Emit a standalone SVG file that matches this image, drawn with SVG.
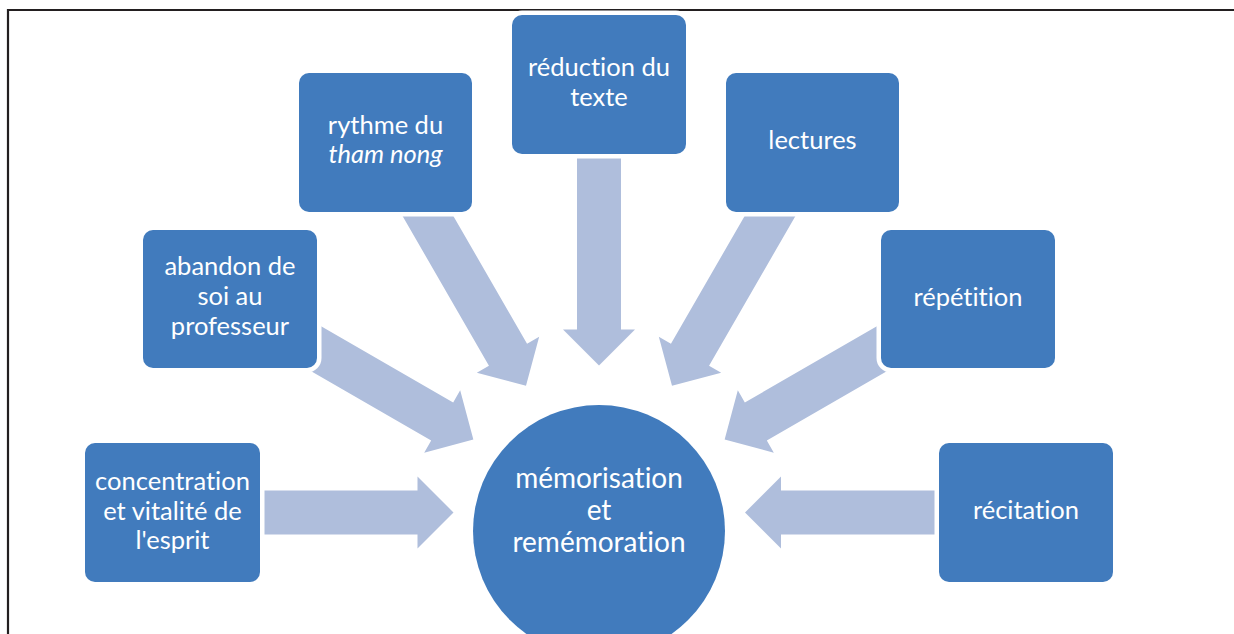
<svg xmlns="http://www.w3.org/2000/svg" xmlns:xlink="http://www.w3.org/1999/xlink" width="1234" height="634" viewBox="0 0 1234 634">
<style>
.box{fill:#417BBD;stroke:#FFFFFF;stroke-width:9;paint-order:stroke fill}
.lbl{font-family:Lato,"Open Sans",sans-serif;font-size:25.5px;fill:#FFFFFF;text-anchor:middle;font-variant-ligatures:none;font-feature-settings:"liga" 0}
.big{font-size:28px}
.arr{fill:#AFBEDC}
.frame{fill:none;stroke:#231F20;stroke-width:2.2}
</style>
<defs>
<polygon id="arrow" points="0,-22 245,-22 245,-36 281,0 245,36 245,22 0,22"/>
</defs>
<rect width="1234" height="634" fill="#FFFFFF"/>
<path class="frame" d="M8,634 L8,10 L1234,10"/>
<g id="connectors" class="arr">
<use xlink:href="#arrow" transform="translate(172.5,512.5)"/>
<use xlink:href="#arrow" transform="translate(230,299) rotate(30)"/>
<use xlink:href="#arrow" transform="translate(385.5,142.5) rotate(60)"/>
<use xlink:href="#arrow" transform="translate(599,84.5) rotate(90)"/>
<use xlink:href="#arrow" transform="translate(812.5,142.5) rotate(120)"/>
<use xlink:href="#arrow" transform="translate(968,299) rotate(150)"/>
<use xlink:href="#arrow" transform="translate(1026,512.5) rotate(180)"/>
</g>
<g id="center">
<circle cx="599" cy="531" r="126" fill="#417BBD"/>
<text class="lbl big" x="599" y="488">mémorisation</text>
<text class="lbl big" x="599" y="520">et</text>
<text class="lbl big" x="599" y="552">remémoration</text>
</g>
<g id="concentration">
<rect class="box" x="85" y="443" width="175" height="139" rx="10"/>
<text class="lbl" x="172.5" y="490">concentration</text>
<text class="lbl" x="172.5" y="520">et vitalité de</text>
<text class="lbl" x="172.5" y="549">l'esprit</text>
</g>
<g id="abandon">
<rect class="box" x="143" y="230" width="174" height="138" rx="10"/>
<text class="lbl" x="230" y="275">abandon de</text>
<text class="lbl" x="230" y="305">soi au</text>
<text class="lbl" x="230" y="335">professeur</text>
</g>
<g id="rythme">
<rect class="box" x="299" y="73" width="173" height="139" rx="10"/>
<text class="lbl" x="385.5" y="134">rythme du</text>
<text class="lbl" x="385.5" y="163" font-style="italic">tham nong</text>
</g>
<g id="reduction">
<rect class="box" x="512" y="15" width="174" height="139" rx="10"/>
<text class="lbl" x="599" y="76">réduction du</text>
<text class="lbl" x="599" y="106">texte</text>
</g>
<g id="lectures">
<rect class="box" x="726" y="73" width="173" height="139" rx="10"/>
<text class="lbl" x="812.5" y="149">lectures</text>
</g>
<g id="repetition">
<rect class="box" x="881" y="230" width="174" height="138" rx="10"/>
<text class="lbl" x="968" y="306">répétition</text>
</g>
<g id="recitation">
<rect class="box" x="939" y="443" width="174" height="139" rx="10"/>
<text class="lbl" x="1026" y="519">récitation</text>
</g>
</svg>
